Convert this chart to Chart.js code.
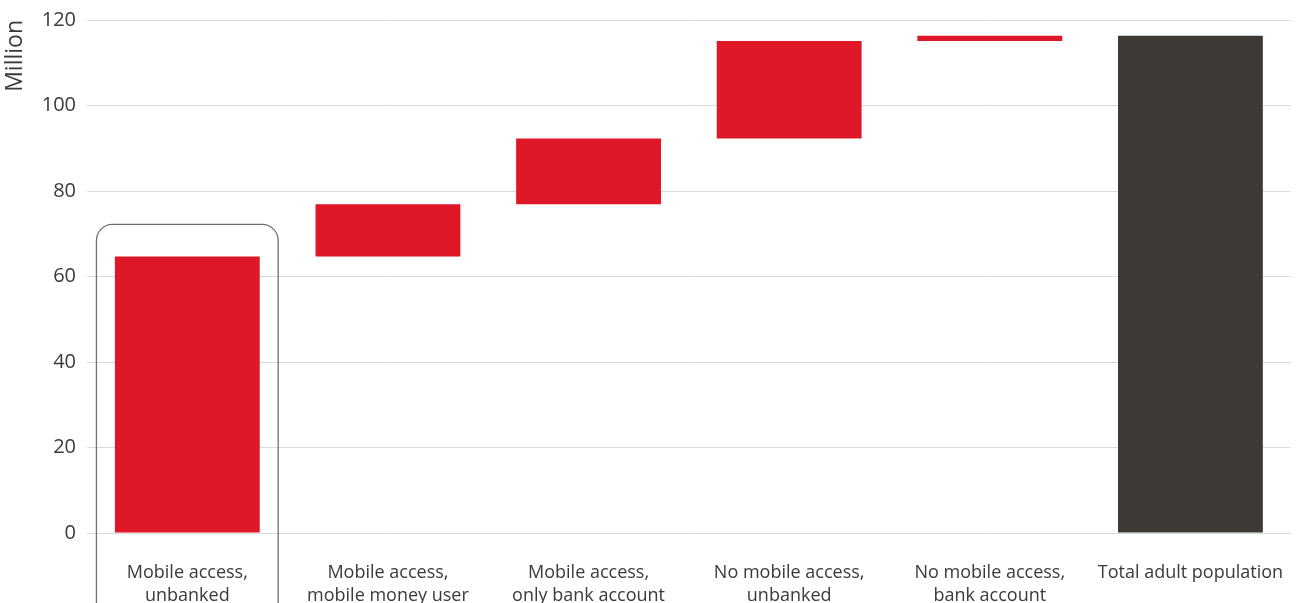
<!DOCTYPE html>
<html>
<head>
<meta charset="utf-8">
<script src="https://cdn.jsdelivr.net/npm/chart.js@4.4.1/dist/chart.umd.min.js"></script>
<style>
  html, body { margin: 0; padding: 0; background: #fff; }
  #wrap { width: 1304px; height: 603px; position: relative; }
</style>
</head>
<body>
<div id="wrap"><canvas id="waterfall"></canvas></div>
<script>
// adult population breakdown, million
const categories = [
  ['Mobile access,', 'unbanked'],
  ['Mobile access,', 'mobile money user'],
  ['Mobile access,', 'only bank account'],
  ['No mobile access,', 'unbanked'],
  ['No mobile access,', 'bank account'],
  'Total adult population'
];
const barStart = [0, 64.7, 76.9, 92.3, 115.1, 0];
const barEnd = [64.7, 76.9, 92.3, 115.1, 116.3, 116.3];
const barColors = ['#de1826', '#de1826', '#de1826', '#de1826', '#de1826', '#3d3935'];
const yTicks = [0, 20, 40, 60, 80, 100, 120];

const FONT = "'Open Sans', sans-serif";
const TEXT = '#3a3a3a';

// rounded outline around the first column
const highlightBox = {
  id: 'highlightBox',
  afterDatasetsDraw(chart) {
    const x = chart.scales.x, y = chart.scales.y;
    const step = x.getPixelForValue(1) - x.getPixelForValue(0);
    const cx = x.getPixelForValue(0);
    const left = cx - step * 0.453, right = cx + step * 0.453;
    const top = y.getPixelForValue(barEnd[0]) - 32;
    const bottom = chart.height + 30;
    const r = 16;
    const ctx = chart.ctx;
    ctx.save();
    ctx.strokeStyle = '#707070';
    ctx.lineWidth = 1.3;
    ctx.beginPath();
    ctx.roundRect(left, top, right - left, bottom - top, r);
    ctx.stroke();
    ctx.restore();
  }
};

new Chart(document.getElementById('waterfall'), {
  type: 'bar',
  data: {
    labels: categories,
    datasets: [{
      data: barStart.map((s, i) => [s, barEnd[i]]),
      backgroundColor: barColors,
      borderWidth: 0,
      categoryPercentage: 1,
      barPercentage: 0.722
    }]
  },
  options: {
    responsive: true,
    maintainAspectRatio: false,
    animation: false,
    layout: { padding: { top: 0, right: 11, left: 0, bottom: 0 } },
    plugins: { legend: { display: false }, tooltip: { enabled: false } },
    scales: {
      x: {
        grid: { display: false },
        border: { display: false },
        ticks: {
          color: TEXT,
          padding: 20,
          maxRotation: 0,
          autoSkip: false,
          font: { family: FONT, size: 18, lineHeight: 1.28 }
        },
        afterFit(scale) { scale.height = 70; }
      },
      y: {
        min: 0,
        max: 120,
        afterBuildTicks(scale) { scale.ticks = yTicks.map(v => ({ value: v })); },
        grid: { color: '#d9d9d9', lineWidth: 1, drawTicks: false },
        border: { display: false },
        ticks: {
          color: TEXT,
          padding: 11,
          font: { family: FONT, size: 20, lineHeight: 1.2 }
        },
        title: {
          display: true,
          text: 'Million',
          align: 'end',
          color: TEXT,
          padding: { top: 2, bottom: 4 },
          font: { family: FONT, size: 23 }
        },
        afterFit(scale) {
          scale.width = 87;
          scale.paddingTop = 20;
        }
      }
    }
  },
  plugins: [highlightBox]
});
</script>
</body>
</html>
